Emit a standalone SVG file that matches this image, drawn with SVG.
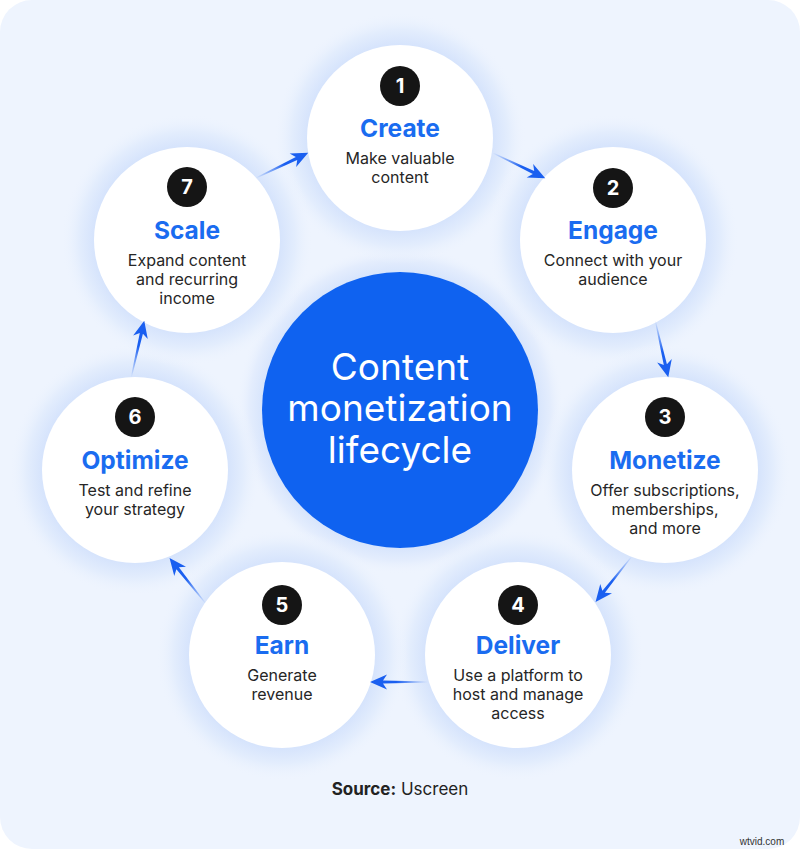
<svg xmlns="http://www.w3.org/2000/svg" width="800" height="849" viewBox="0 0 800 849">
<defs>
<radialGradient id="halo">
<stop offset="0" stop-color="#d9e6fd"/>
<stop offset="0.73" stop-color="#d5e3fc"/>
<stop offset="0.86" stop-color="#e3edfd"/>
<stop offset="1" stop-color="#eef4fe" stop-opacity="0"/>
</radialGradient>
<radialGradient id="haloC">
<stop offset="0" stop-color="#d9e6fd"/>
<stop offset="0.83" stop-color="#d6e4fc"/>
<stop offset="0.92" stop-color="#e4edfd"/>
<stop offset="1" stop-color="#eef4fe" stop-opacity="0"/>
</radialGradient>
<linearGradient id="ag" x1="0" y1="0" x2="1" y2="0">
<stop offset="0" stop-color="#1a5ff0" stop-opacity="0"/>
<stop offset="0.55" stop-color="#1a5ff0"/>
<stop offset="1" stop-color="#1a5ff0"/>
</linearGradient>
<path id="arrow" d="M-30,-0.5 L15,-1.6 L11,-7.5 L28,0 L11,7.5 L15,1.6 L-30,0.5 Z" fill="url(#ag)"/>
<style>
.w{fill:#ffffff}
.badge{fill:#151515}
.num{font-family:Inter,"Liberation Sans",sans-serif;font-weight:700;font-size:20px;fill:#ffffff;text-anchor:middle}
.ttl{font-family:Inter,"Liberation Sans",sans-serif;font-weight:700;font-size:24.5px;fill:#1a6cf0;text-anchor:middle}
.dsc{font-family:Inter,"Liberation Sans",sans-serif;font-size:16px;fill:#262626;text-anchor:middle}
.ctr{font-family:Inter,"Liberation Sans",sans-serif;font-size:37px;fill:#ffffff;text-anchor:middle}
</style>
</defs>
<rect x="0" y="0" width="800" height="849" fill="#ffffff"/>
<rect x="0" y="0" width="800" height="849" rx="32" fill="#eef4fe"/>

<g id="center">
<circle cx="400" cy="410" r="164" fill="url(#haloC)"/>
<circle cx="400" cy="410" r="138" fill="#0f62f0"/>
<text class="ctr" x="400" y="380">Content</text>
<text class="ctr" x="400" y="421">monetization</text>
<text class="ctr" x="400" y="463">lifecycle</text>
</g>

<g id="node1">
<circle cx="400" cy="138" r="126" fill="url(#halo)"/>
<circle class="w" cx="400" cy="138" r="93"/>
<circle class="badge" cx="400" cy="86" r="20"/>
<text class="num" x="400" y="93">1</text>
<text class="ttl" x="400" y="137">Create</text>
<text class="dsc" x="400" y="164">Make valuable</text>
<text class="dsc" x="400" y="183">content</text>
</g>

<g id="node2">
<circle cx="613" cy="240" r="126" fill="url(#halo)"/>
<circle class="w" cx="613" cy="240" r="93"/>
<circle class="badge" cx="613" cy="188" r="20"/>
<text class="num" x="613" y="195">2</text>
<text class="ttl" x="613" y="239">Engage</text>
<text class="dsc" x="613" y="266">Connect with your</text>
<text class="dsc" x="613" y="285">audience</text>
</g>

<g id="node3">
<circle cx="665" cy="470" r="126" fill="url(#halo)"/>
<circle class="w" cx="665" cy="470" r="93"/>
<circle class="badge" cx="665" cy="417" r="20"/>
<text class="num" x="665" y="424">3</text>
<text class="ttl" x="665" y="469">Monetize</text>
<text class="dsc" x="665" y="496">Offer subscriptions,</text>
<text class="dsc" x="665" y="515">memberships,</text>
<text class="dsc" x="665" y="534">and more</text>
</g>

<g id="node4">
<circle cx="518" cy="655" r="126" fill="url(#halo)"/>
<circle class="w" cx="518" cy="655" r="93"/>
<circle class="badge" cx="518" cy="605" r="20"/>
<text class="num" x="518" y="612">4</text>
<text class="ttl" x="518" y="654">Deliver</text>
<text class="dsc" x="518" y="681">Use a platform to</text>
<text class="dsc" x="518" y="700">host and manage</text>
<text class="dsc" x="518" y="719">access</text>
</g>

<g id="node5">
<circle cx="282" cy="655" r="126" fill="url(#halo)"/>
<circle class="w" cx="282" cy="655" r="93"/>
<circle class="badge" cx="282" cy="605" r="20"/>
<text class="num" x="282" y="612">5</text>
<text class="ttl" x="282" y="654">Earn</text>
<text class="dsc" x="282" y="681">Generate</text>
<text class="dsc" x="282" y="700">revenue</text>
</g>

<g id="node6">
<circle cx="135" cy="470" r="126" fill="url(#halo)"/>
<circle class="w" cx="135" cy="470" r="93"/>
<circle class="badge" cx="135" cy="417" r="20"/>
<text class="num" x="135" y="424">6</text>
<text class="ttl" x="135" y="469">Optimize</text>
<text class="dsc" x="135" y="496">Test and refine</text>
<text class="dsc" x="135" y="515">your strategy</text>
</g>

<g id="node7">
<circle cx="187" cy="240" r="126" fill="url(#halo)"/>
<circle class="w" cx="187" cy="240" r="93"/>
<circle class="badge" cx="187" cy="187" r="20"/>
<text class="num" x="187" y="194">7</text>
<text class="ttl" x="187" y="239">Scale</text>
<text class="dsc" x="187" y="266">Expand content</text>
<text class="dsc" x="187" y="285">and recurring</text>
<text class="dsc" x="187" y="304">income</text>
</g>

<g id="connectors">
<use href="#arrow" transform="translate(520,166) rotate(25.7)"/>
<use href="#arrow" transform="translate(662,350) rotate(77.1)"/>
<use href="#arrow" transform="translate(613,580) rotate(128.6)"/>
<use href="#arrow" transform="translate(398,682) rotate(180)"/>
<use href="#arrow" transform="translate(187,580) rotate(231.4)"/>
<use href="#arrow" transform="translate(138,348) rotate(282.9)"/>
<use href="#arrow" transform="translate(283,165) rotate(334.3)"/>
</g>

<text x="400" y="795" style="font-family:Inter,'Liberation Sans',sans-serif;font-size:17px;fill:#222222;text-anchor:middle"><tspan font-weight="700">Source:</tspan> Uscreen</text>
<text x="762" y="845" style="font-family:'Liberation Sans',Arial,sans-serif;font-size:10px;fill:#333333;text-anchor:middle">wtvid.com</text>
</svg>
